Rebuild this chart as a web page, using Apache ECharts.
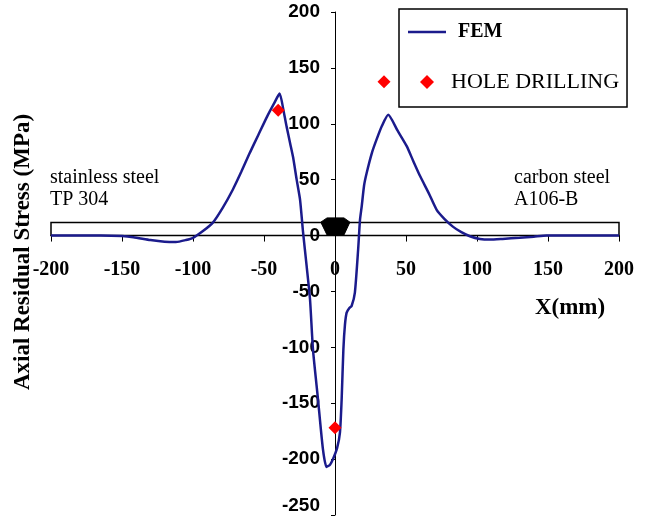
<!DOCTYPE html>
<html><head><meta charset="utf-8">
<script src="https://cdn.jsdelivr.net/npm/echarts@6/dist/echarts.min.js"></script>
<style>html,body{margin:0;padding:0;background:#fff}#c{width:647px;height:517px}</style>
</head><body><div id="c"></div>
<script>
// ---- data ----
const xRange = [-200, 200];
const yRange = [-250, 200];
const femX = [-200,-180,-165,-150,-142,-130,-120,-112,-105,-100,-93,-86,-79,-72,-66,-60,-54,-48,-43,-39,-36,-34,-31.5,-29.5,-27,-24.6,-22.5,-20,-17.6,-15.5,-12,-8.5,-6,-3.5,-1.4,1.5,3.5,4.7,5.9,7,8.2,10,11.7,14,16.3,17.6,18.8,20.5,22.3,26,29.3,33,37.5,44,50.5,55,60,66,71.6,77,83,89,95,102,109,118,130,140,149,170,200];
const femY = [0,0,0,-0.5,-1.5,-4,-5.5,-5.8,-4,-2,4,11.6,25,41,57,74,90,106,118,127,110,97,82,70,50,32,3,-27,-57,-102,-146,-191,-207,-205,-200,-190,-176,-146,-102,-80,-69,-65,-63,-51,-12.5,14,26,45,56,74,86,98,108,94,80,67,53,38,23,15,8,3,-0.6,-3,-3.6,-3,-2,-1,0,0,0];
const holeX = [-40, 34.5, 0];
const holeY = [112, 137.5, -172];
const pipeRect = [-200, 0, 200, 11.6];           // x0, y0, x1, y1
const weldX = [-10, -5.6, 6.3, 10.5, 6.3, -5.6];
const weldY = [12, 15.8, 15.8, 12, 0.5, 0.5];

const fem = femX.map((x, i) => [x, femY[i]]);
const hole = holeX.map((x, i) => [x, holeY[i]]);

const serif = 'Liberation Serif';
const sans = 'Liberation Sans';

const W = 647, H = 517;
const grid = {left: 51, right: 28, top: 12, bottom: 2};
const gw = W - grid.left - grid.right, gh = H - grid.top - grid.bottom;
// shift axes so they cross at (0,0)
const yAxisOffset = -gw * (0 - xRange[0]) / (xRange[1] - xRange[0]);
const xAxisOffset = -gh * (0 - yRange[0]) / (yRange[1] - yRange[0]);

const chart = echarts.init(document.getElementById('c'), null, {renderer: 'canvas'});
chart.setOption({
  animation: false,
  backgroundColor: '#fff',
  grid: Object.assign({containLabel: false, outerBoundsMode: 'none'}, grid),
  xAxis: {
    type: 'value', min: xRange[0], max: xRange[1], interval: 50,
    position: 'bottom', offset: xAxisOffset,
    axisLine: {onZero: false, lineStyle: {color: '#000', width: 1}},
    axisTick: {show: true, length: 6, lineStyle: {color: '#000'}},
    splitLine: {show: false},
    axisLabel: {margin: 24, fontFamily: serif, fontWeight: 'bold', fontSize: 20, color: '#000'}
  },
  yAxis: {
    type: 'value', min: yRange[0], max: yRange[1], interval: 50,
    position: 'left', offset: yAxisOffset,
    axisLine: {onZero: false, lineStyle: {color: '#000', width: 1}},
    axisTick: {show: true, length: 4, lineStyle: {color: '#000'}},
    splitLine: {show: false},
    axisLabel: {
      margin: 15, fontFamily: sans, fontWeight: 'bold', fontSize: 19, color: '#000',
      formatter: function (v) { return v === yRange[0] ? '{low|' + v + '}' : String(v); },
      rich: {low: {fontFamily: sans, fontWeight: 'bold', fontSize: 19, color: '#000', padding: [0, 0, 18, 0]}}
    }
  },
  legend: {
    left: 399, top: 9, orient: 'vertical',
    padding: [13, 8, 14, 9],
    itemGap: 29, itemWidth: 38, itemHeight: 14,
    borderColor: '#000', borderWidth: 1.5, backgroundColor: '#fff',
    textStyle: {fontFamily: serif, fontSize: 22, color: '#000'},
    data: [
      {name: 'FEM', icon: 'path://M0,0H45V3H0Z',
        textStyle: {fontFamily: serif, fontWeight: 'bold', fontSize: 20, padding: [0, 0, 0, 7]}},
      {name: 'HOLE DRILLING', icon: 'path://M7,0L14,7L7,14L0,7Z',
        textStyle: {fontFamily: serif, fontWeight: 'normal', fontSize: 22}}
    ]
  },
  series: [
    {
      name: 'pipe', type: 'custom', z: 1, silent: true,
      data: [pipeRect],
      renderItem: function (params, api) {
        const p0 = api.coord([api.value(0), api.value(1)]);
        const p1 = api.coord([api.value(2), api.value(3)]);
        return {type: 'rect', shape: {x: p0[0], y: p1[1], width: p1[0] - p0[0], height: p0[1] - p1[1]},
          style: {fill: 'none', stroke: '#000', lineWidth: 1.5}};
      }
    },
    {
      name: 'FEM', type: 'line', z: 3, data: fem, symbol: 'none', showSymbol: false, smooth: 0.2,
      lineStyle: {color: '#1b1b8c', width: 2.5}, itemStyle: {color: '#1b1b8c'}
    },
    {
      name: 'HOLE DRILLING', type: 'scatter', z: 4, data: hole, symbol: 'diamond', symbolSize: 13,
      itemStyle: {color: '#ff0000', opacity: 1}
    },
    {
      name: 'weld', type: 'custom', z: 5, silent: true,
      data: [0],
      renderItem: function (params, api) {
        const pts = weldX.map((x, i) => api.coord([x, weldY[i]]));
        return {type: 'polygon', shape: {points: pts}, style: {fill: '#000', stroke: '#000', lineWidth: 1}};
      }
    }
  ],
  graphic: [
    {type: 'text', x: 23, y: 252, rotation: Math.PI / 2,
      style: {text: 'Axial Residual Stress (MPa)', font: 'bold 23px "Liberation Serif"', fill: '#000', align: 'center', verticalAlign: 'middle'}},
    {type: 'text', x: 570, y: 308,
      style: {text: 'X(mm)', font: 'bold 23px "Liberation Serif"', fill: '#000', align: 'center', verticalAlign: 'middle'}},
    {type: 'text', x: 50, y: 178,
      style: {text: 'stainless steel', font: '20px "Liberation Serif"', fill: '#000', align: 'left', verticalAlign: 'middle'}},
    {type: 'text', x: 50, y: 200,
      style: {text: 'TP 304', font: '20px "Liberation Serif"', fill: '#000', align: 'left', verticalAlign: 'middle'}},
    {type: 'text', x: 514, y: 178,
      style: {text: 'carbon steel', font: '20px "Liberation Serif"', fill: '#000', align: 'left', verticalAlign: 'middle'}},
    {type: 'text', x: 514, y: 200,
      style: {text: 'A106-B', font: '20px "Liberation Serif"', fill: '#000', align: 'left', verticalAlign: 'middle'}}
  ]
});
</script>
</body></html>
